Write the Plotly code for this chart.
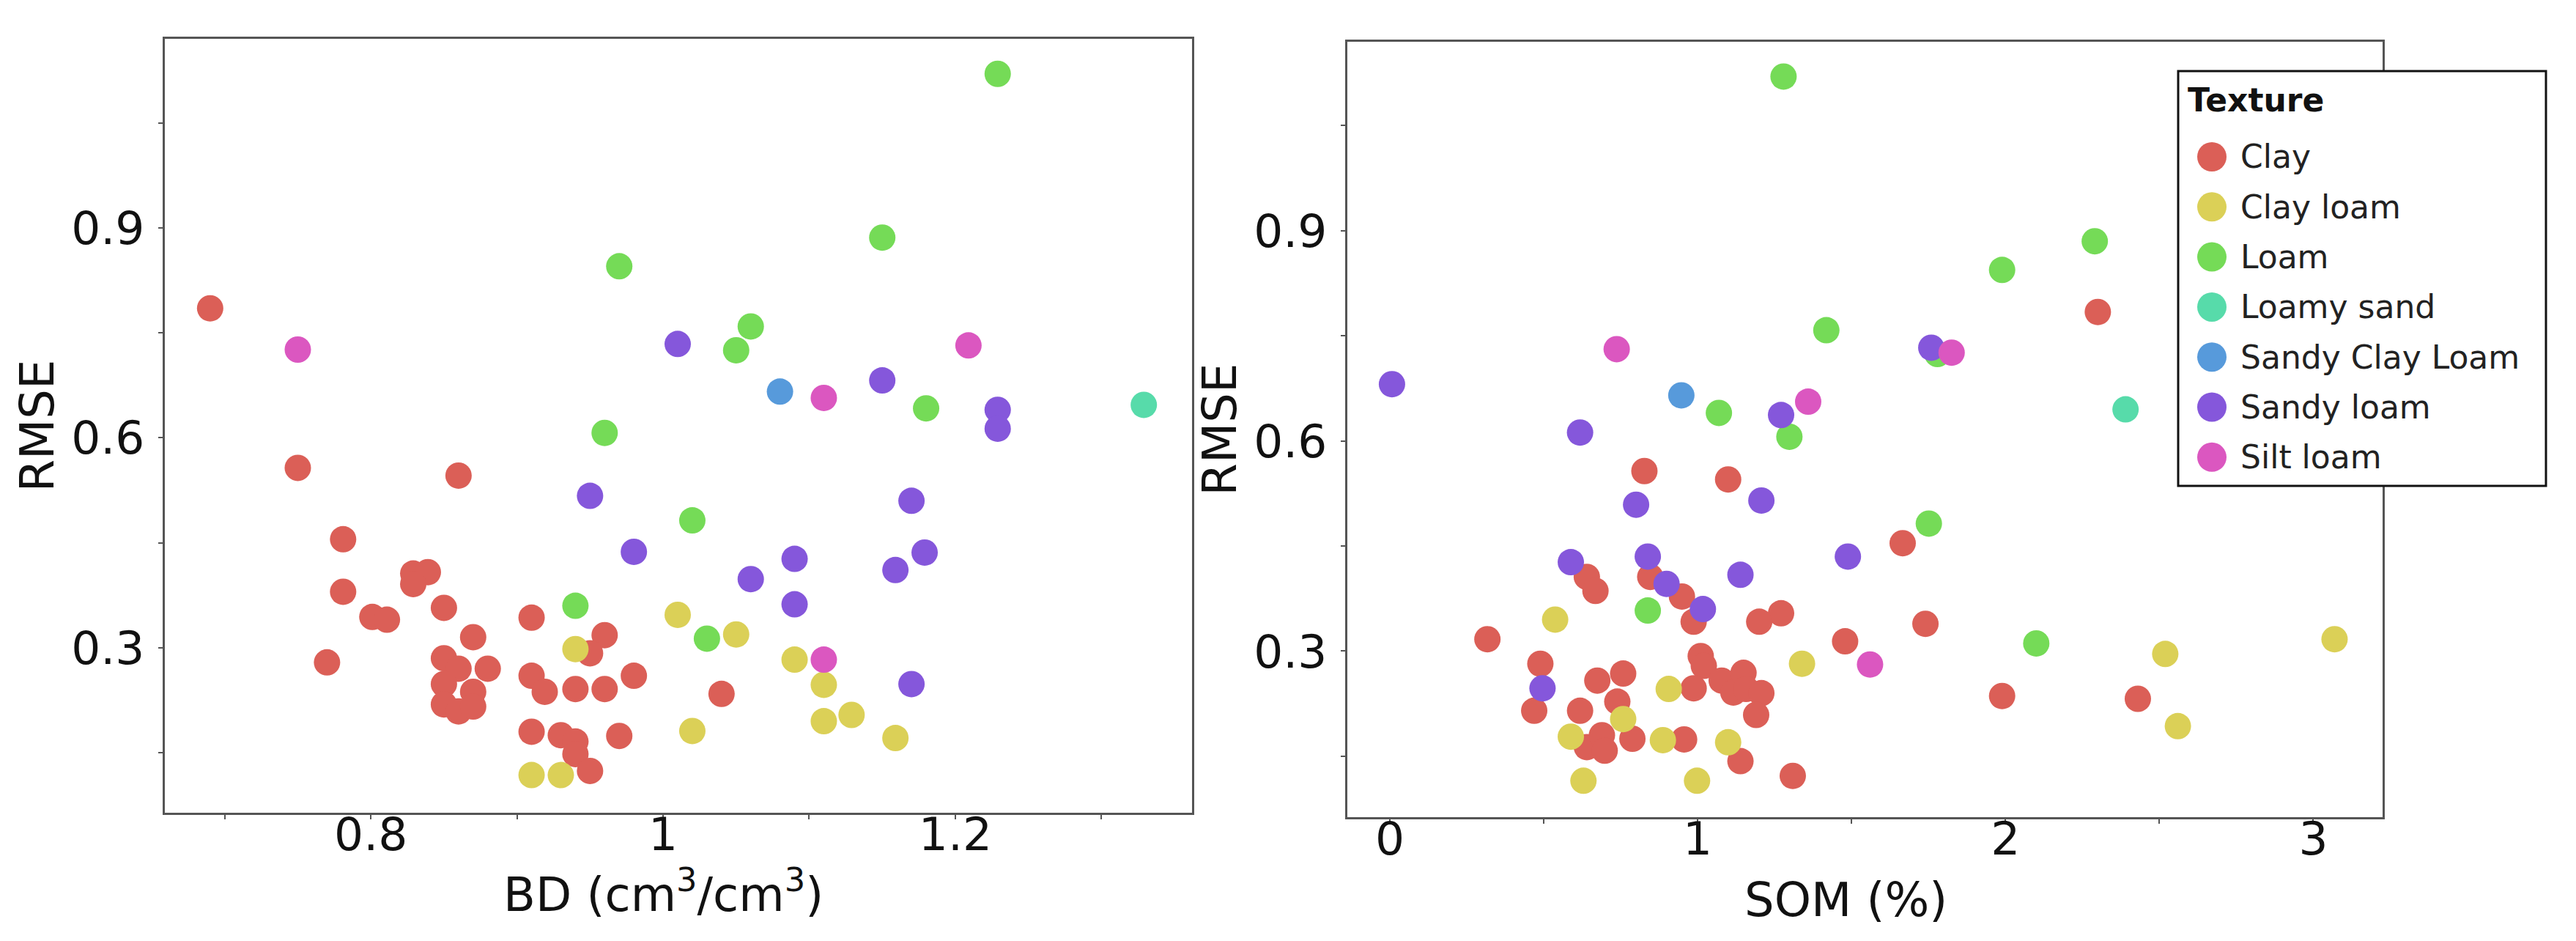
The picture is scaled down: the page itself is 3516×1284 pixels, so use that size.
import plotly.graph_objects as go

W, H = 3516, 1284

textures = ["Clay", "Clay loam", "Loam", "Loamy sand", "Sandy Clay Loam", "Sandy loam", "Silt loam"]
colors = ["#db5f57", "#dbd057", "#75db57", "#57dbaa", "#579adb", "#8557db", "#db57c0"]

# ---- Left panel: BD vs RMSE ----
bd_clay = [0.690, 0.750, 0.860, 0.781, 0.829, 0.839, 0.829, 0.781, 0.801, 0.811, 0.850, 0.910,
           0.870, 0.960, 0.950, 0.770, 0.850, 0.860, 0.880, 0.850, 0.870, 0.850, 0.860, 0.870,
           0.910, 0.919, 0.940, 0.960, 0.980, 0.910, 0.930, 0.940, 0.940, 0.950, 0.970, 1.040]
bd_rmse_clay = [0.785, 0.557, 0.546, 0.455, 0.406, 0.408, 0.391, 0.380, 0.344, 0.340, 0.357, 0.343,
                0.315, 0.318, 0.292, 0.279, 0.285, 0.270, 0.270, 0.248, 0.237, 0.219, 0.209, 0.216,
                0.260, 0.237, 0.241, 0.241, 0.260, 0.180, 0.175, 0.166, 0.148, 0.124, 0.174, 0.234]
bd_clayloam = [0.940, 0.910, 0.930, 1.010, 1.050, 1.090, 1.110, 1.129, 1.110, 1.020, 1.159]
bd_rmse_clayloam = [0.298, 0.118, 0.118, 0.347, 0.319, 0.283, 0.247, 0.204, 0.195, 0.181, 0.171]
bd_loam = [1.229, 1.150, 0.970, 1.060, 1.050, 1.180, 0.960, 1.020, 0.940, 1.030]
bd_rmse_loam = [1.120, 0.886, 0.845, 0.759, 0.725, 0.642, 0.607, 0.482, 0.360, 0.313]
bd_loamysand = [1.329]
bd_rmse_loamysand = [0.647]
bd_scl = [1.080]
bd_rmse_scl = [0.666]
bd_sandyloam = [1.010, 1.150, 1.229, 1.229, 0.950, 0.980, 1.170, 1.090, 1.179, 1.159, 1.060, 1.090, 1.170]
bd_rmse_sandyloam = [0.734, 0.682, 0.640, 0.613, 0.517, 0.437, 0.510, 0.427, 0.436, 0.411, 0.398, 0.362, 0.248]
bd_siltloam = [0.750, 1.209, 1.110, 1.110]
bd_rmse_siltloam = [0.726, 0.732, 0.657, 0.283]

# ---- Right panel: SOM vs RMSE ----
som_clay = [0.827, 1.099, 1.666, 0.640, 0.668, 0.846, 0.949, 0.987, 1.271, 1.200, 0.317, 1.479,
            0.489, 0.469, 0.758, 0.674, 0.739, 0.618, 0.640, 0.689, 0.698, 0.788, 0.956, 1.139,
            1.309, 1.010, 1.020, 0.987, 1.078, 1.116, 1.149, 1.157, 1.207, 1.190, 2.300, 1.740,
            1.989, 2.430]
som_rmse_clay = [0.557, 0.545, 0.454, 0.406, 0.386, 0.406, 0.378, 0.342, 0.354, 0.342, 0.317, 0.314,
                 0.282, 0.215, 0.268, 0.258, 0.228, 0.215, 0.163, 0.180, 0.158, 0.175, 0.174, 0.143,
                 0.122, 0.293, 0.279, 0.247, 0.258, 0.241, 0.269, 0.246, 0.240, 0.209, 0.784, 0.339,
                 0.236, 0.232]
som_clayloam = [0.537, 1.339, 0.758, 0.588, 0.887, 1.099, 0.629, 0.998, 0.906, 2.519, 3.069, 2.560]
som_rmse_clayloam = [0.345, 0.282, 0.203, 0.178, 0.173, 0.170, 0.115, 0.115, 0.246, 0.296, 0.317, 0.193]
som_loam = [1.279, 1.418, 1.069, 1.298, 0.838, 2.290, 1.989, 1.779, 1.751, 2.100]
som_rmse_loam = [1.120, 0.758, 0.640, 0.606, 0.358, 0.885, 0.844, 0.724, 0.482, 0.311]
som_loamysand = [2.390]
som_rmse_loamysand = [0.645]
som_scl = [0.947]
som_rmse_scl = [0.665]
som_sandyloam = [0.007, 1.271, 0.618, 0.800, 1.207, 1.488, 0.588, 0.838, 0.899, 1.139, 1.017, 0.496, 1.759]
som_rmse_sandyloam = [0.681, 0.637, 0.612, 0.509, 0.515, 0.435, 0.427, 0.435, 0.396, 0.409, 0.360, 0.247, 0.733]
som_siltloam = [0.737, 1.359, 1.560, 1.825]
som_rmse_siltloam = [0.731, 0.656, 0.281, 0.726]

rmse_ticks = [0.3, 0.6, 0.9]
rmse_ticktext = ["0.3", "0.6", "0.9"]
bd_ticks = [0.8, 1.0, 1.2]
bd_ticktext = ["0.8", "1", "1.2"]
som_ticks = [0, 1, 2, 3]
som_ticktext = ["0", "1", "2", "3"]

left_series = [(bd_clay, bd_rmse_clay), (bd_clayloam, bd_rmse_clayloam), (bd_loam, bd_rmse_loam),
               (bd_loamysand, bd_rmse_loamysand), (bd_scl, bd_rmse_scl),
               (bd_sandyloam, bd_rmse_sandyloam), (bd_siltloam, bd_rmse_siltloam)]
right_series = [(som_clay, som_rmse_clay), (som_clayloam, som_rmse_clayloam), (som_loam, som_rmse_loam),
                (som_loamysand, som_rmse_loamysand), (som_scl, som_rmse_scl),
                (som_sandyloam, som_rmse_sandyloam), (som_siltloam, som_rmse_siltloam)]

FONT = "DejaVu Sans"
fig = go.Figure()
MS = 36
for name, col, (x, y) in zip(textures, colors, left_series):
    fig.add_trace(go.Scatter(x=x, y=y, mode="markers", name=name, legendgroup=name, showlegend=False,
                             marker=dict(size=MS, color=col, line=dict(width=0)),
                             xaxis="x", yaxis="y"))
for name, col, (x, y) in zip(textures, colors, right_series):
    fig.add_trace(go.Scatter(x=x, y=y, mode="markers", name=name, legendgroup=name, showlegend=False,
                             marker=dict(size=MS, color=col, line=dict(width=0)),
                             xaxis="x2", yaxis="y2"))

axis_common = dict(showgrid=False, zeroline=False, showline=True, linecolor="#555555", linewidth=3,
                   mirror=True, ticks="outside", ticklen=6, tickwidth=2, tickcolor="#555555",
                   tickfont=dict(family=FONT, size=63, color="#111111"),
                   automargin=False)
minor_common = dict(ticks="outside", ticklen=6, tickwidth=2, tickcolor="#555555", showgrid=False)
title_font = dict(family=FONT, size=64, color="#111111")

fig.update_layout(
    width=W, height=H,
    margin=dict(l=0, r=0, t=0, b=0),
    paper_bgcolor="white", plot_bgcolor="white",
    showlegend=False,
    xaxis=dict(domain=[217 / W, 1619 / W], range=[0.659, 1.362], anchor="y",
               tickvals=bd_ticks, ticktext=bd_ticktext,
               minor=dict(dtick=0.1, tick0=0, **minor_common),
               ticklabelstandoff=-34,
               **axis_common),
    yaxis=dict(domain=[(H - 1101) / H, (H - 45) / H], range=[0.0642, 1.170], anchor="x",
               tickvals=rmse_ticks, ticktext=rmse_ticktext,
               minor=dict(dtick=0.15, tick0=0, **minor_common),
               ticklabelstandoff=6,
               title=dict(text="RMSE", standoff=3, font=title_font),
               **axis_common),
    xaxis2=dict(domain=[1831 / W, 3244 / W], range=[-0.138, 3.225], anchor="y2",
                tickvals=som_ticks, ticktext=som_ticktext,
                minor=dict(dtick=0.5, tick0=0, **minor_common),
                ticklabelstandoff=-34,
                **axis_common),
    yaxis2=dict(domain=[(H - 1107) / H, (H - 49) / H], range=[0.0631, 1.1696], anchor="x2",
                tickvals=rmse_ticks, ticktext=rmse_ticktext,
                minor=dict(dtick=0.15, tick0=0, **minor_common),
                ticklabelstandoff=6,
                title=dict(text="RMSE", standoff=3, font=title_font),
                **axis_common),
)

# x-axis titles placed as annotations for exact positioning
fig.add_annotation(text="BD (cm<sup>3</sup>/cm<sup>3</sup>)", xref="paper", yref="paper",
                   x=897 / W, y=1 - 1208 / H, xanchor="center", yanchor="middle", showarrow=False,
                   font=title_font)
fig.add_annotation(text="SOM (%)", xref="paper", yref="paper",
                   x=2511 / W, y=1 - 1220 / H, xanchor="center", yanchor="middle", showarrow=False,
                   font=title_font)

# ---- Legend (drawn as layout shapes/annotations so the markers match the plot size) ----
lx0, lx1, ly0, ly1 = 2965, 3467, 89, 655
fig.add_shape(type="rect", xref="paper", yref="paper",
              x0=lx0 / W, x1=lx1 / W, y0=1 - ly1 / H, y1=1 - ly0 / H,
              line=dict(color="#111111", width=3), fillcolor="white", layer="above")
fig.add_annotation(text="<b>Texture</b>", xref="paper", yref="paper", x=2976 / W, y=1 - 129 / H,
                   xanchor="left", yanchor="middle", showarrow=False,
                   font=dict(family=FONT, size=44, color="#111111"))
R = 20
for i, (name, col) in enumerate(zip(textures, colors)):
    cy = 206 + i * 68.3
    cx = 3011
    fig.add_shape(type="circle", xref="paper", yref="paper",
                  x0=(cx - R) / W, x1=(cx + R) / W, y0=1 - (cy + R) / H, y1=1 - (cy - R) / H,
                  line=dict(width=0), fillcolor=col, layer="above")
    fig.add_annotation(text=name, xref="paper", yref="paper", x=3048 / W, y=1 - cy / H,
                       xanchor="left", yanchor="middle", showarrow=False,
                       font=dict(family=FONT, size=44, color="#222222"))

fig.write_html("out.html")
